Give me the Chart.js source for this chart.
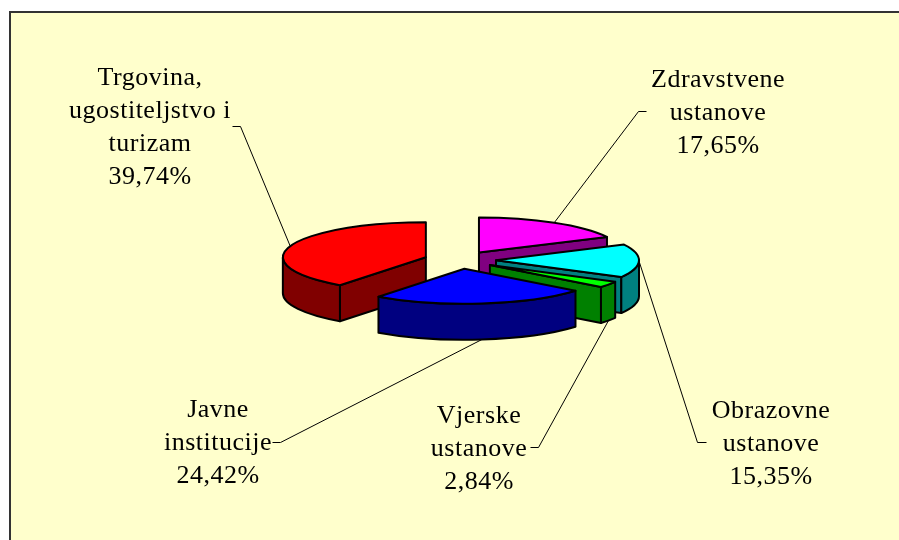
<!DOCTYPE html>
<html><head><meta charset="utf-8">
<style>html,body{margin:0;padding:0;background:#fff}canvas{display:block}</style>
<script src="https://cdn.jsdelivr.net/npm/chart.js@4/dist/chart.umd.min.js"></script>
</head><body><canvas id="c" width="899" height="540"></canvas>
<script>
const categories = ["Zdravstvene ustanove","Obrazovne ustanove","Vjerske ustanove","Javne institucije","Trgovina, ugostiteljstvo i turizam"];
const values = [17.65,15.35,2.84,24.42,39.74];
const topColors = ["#FF00FF","#00FFFF","#00FF00","#0000FF","#FF0000"];
const sideColors = ["#800080","#008080","#008000","#000080","#800000"];
const labelLines = [
  ["Zdravstvene","ustanove","17,65%"],
  ["Obrazovne","ustanove","15,35%"],
  ["Vjerske","ustanove","2,84%"],
  ["Javne","institucije","24,42%"],
  ["Trgovina,","ugostiteljstvo i","turizam","39,74%"]
];
const paintOrder = [4,0,1,2,3];
const labelCenters = [[718,87],[771,418],[479,423],[218,417],[150,85]];
const leaderElbows = [[[646,111],[638,111]],[[706,442],[697,442]],[[530,447],[538,447]],[[272,442],[280,442]],[[232,126],[240,126]]];
const squash = 0.245, depth = 36, lineH = 33, explode = 36;

const pie3d = {
  id:'pie3d',
  beforeDraw(chart){
    const c = chart.ctx;
    c.save();
    c.fillStyle='#fff'; c.fillRect(0,0,chart.width,chart.height);
    c.fillStyle='#FFFFCC'; c.strokeStyle='#333'; c.lineWidth=2;
    c.fillRect(10,12,chart.width,chart.height);
    c.strokeRect(10,12,chart.width+20,chart.height+20);
    c.restore();
  },
  beforeDatasetDraw(chart){
    const c = chart.ctx, arcs = chart.getDatasetMeta(0).data;
    const geom = arcs.map(el=>{
      const p = el.getProps(['x','y','startAngle','endAngle','outerRadius'],true);
      const mid=(p.startAngle+p.endAngle)/2, r=p.outerRadius;
      return {x:p.x+Math.cos(mid)*explode, y:p.y+Math.sin(mid)*explode*squash, rx:r, ry:r*squash, a0:p.startAngle, a1:p.endAngle, mid, cy:p.y};
    });
    c.save(); c.lineWidth=2; c.lineJoin='round'; c.strokeStyle='#000';
    paintOrder.forEach(i=>{
      const g=geom[i];
      const pt=a=>[g.x+g.rx*Math.cos(a), g.y+g.ry*Math.sin(a)];
      c.fillStyle=sideColors[i];
      const wall=a=>{const q=pt(a);c.beginPath();c.moveTo(g.x,g.y);c.lineTo(q[0],q[1]);c.lineTo(q[0],q[1]+depth);c.lineTo(g.x,g.y+depth);c.closePath();c.fill();c.stroke();};
      if(Math.cos(g.a0)<-1e-6) wall(g.a0);
      if(Math.cos(g.a1)>1e-6) wall(g.a1);
      const f0=Math.max(g.a0,0), f1=Math.min(g.a1,Math.PI);
      if(f1>f0){
        c.beginPath(); c.ellipse(g.x,g.y,g.rx,g.ry,0,f0,f1);
        c.ellipse(g.x,g.y+depth,g.rx,g.ry,0,f1,f0,true); c.closePath(); c.fill(); c.stroke();
      }
      // top face drawn by the library's own arc element
      c.save(); c.translate(0,g.cy); c.scale(1,squash); c.translate(0,-g.cy);
      c.translate(Math.cos(g.mid)*explode, Math.sin(g.mid)*explode);
      arcs[i].draw(c);
      c.restore();
      c.beginPath(); c.moveTo(g.x,g.y); c.ellipse(g.x,g.y,g.rx,g.ry,0,g.a0,g.a1); c.closePath(); c.stroke();
    });
    c.restore();
    // leaders and labels
    c.save(); c.strokeStyle='#000'; c.lineWidth=1; c.fillStyle='#000';
    geom.forEach((g,i)=>{
      const front=Math.sin(g.mid)>0 && Math.abs(Math.cos(g.mid))<0.9 ? depth:0;
      const e=leaderElbows[i];
      c.beginPath(); c.moveTo(e[0][0]+.5,e[0][1]+.5); c.lineTo(e[1][0]+.5,e[1][1]+.5);
      c.lineTo(g.x+g.rx*Math.cos(g.mid), g.y+g.ry*Math.sin(g.mid)+front); c.stroke();
    });
    c.font='26px "Liberation Serif"'; c.textAlign='center'; c.textBaseline='alphabetic';
    c.letterSpacing='0.5px';
    labelLines.forEach((ls,i)=>{ls.forEach((t,j)=>c.fillText(t,labelCenters[i][0],labelCenters[i][1]+j*lineH));});
    c.restore();
    return false;
  }
};

new Chart(document.getElementById('c'),{
  type:'pie',
  data:{labels:categories,datasets:[{data:values,backgroundColor:topColors,borderWidth:0}]},
  options:{responsive:false,animation:false,radius:143,
    layout:{padding:{left:21,right:0,top:0,bottom:20}},
    plugins:{legend:{display:false},tooltip:{enabled:false},title:{display:false}}},
  plugins:[pie3d]
});
</script></body></html>
